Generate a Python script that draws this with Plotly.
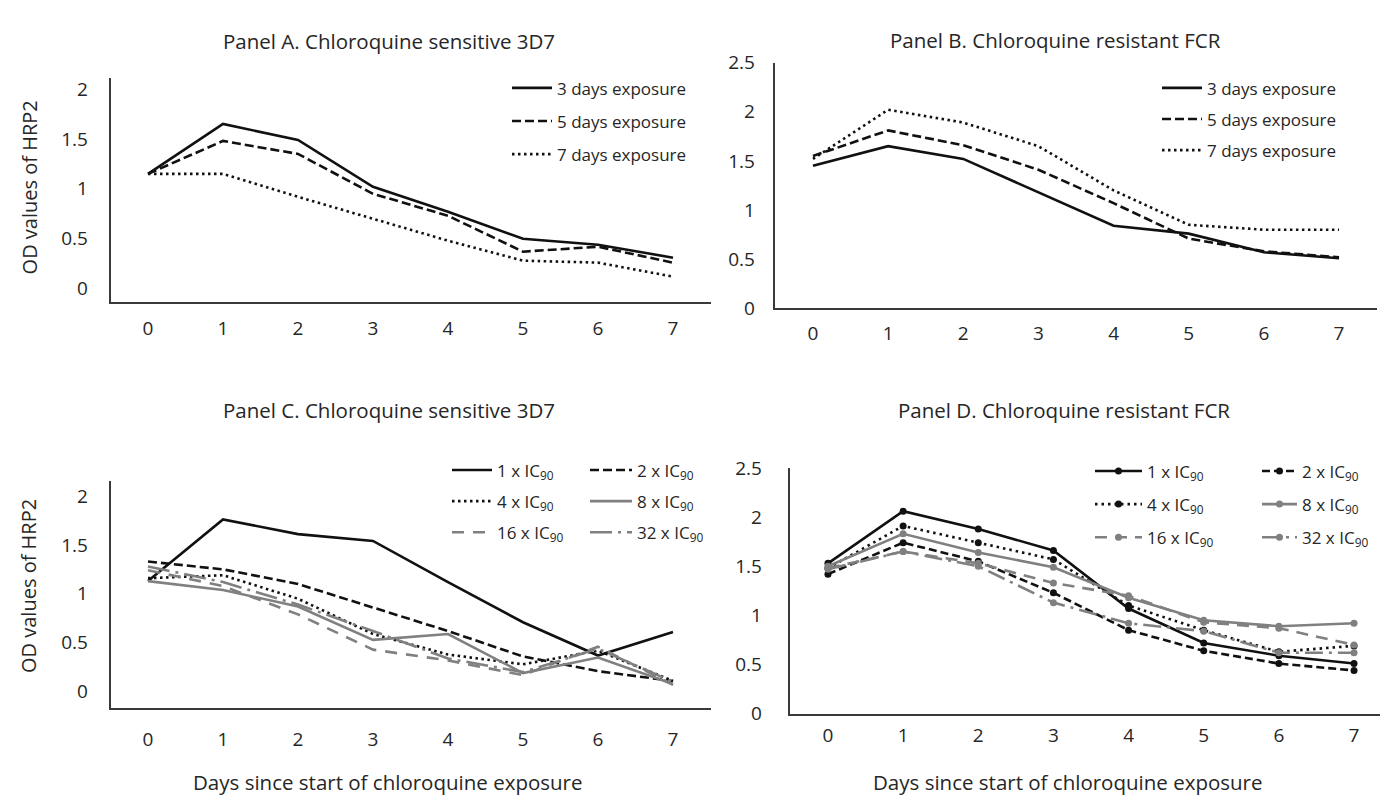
import plotly.graph_objects as go

days = [0, 1, 2, 3, 4, 5, 6, 7]
day_ticks = ["0", "1", "2", "3", "4", "5", "6", "7"]

# Panel A - Chloroquine sensitive 3D7 (exposure duration)
a_3days = [1.15, 1.65, 1.49, 1.02, 0.77, 0.50, 0.44, 0.31]
a_5days = [1.15, 1.48, 1.35, 0.95, 0.73, 0.37, 0.42, 0.26]
a_7days = [1.15, 1.15, 0.92, 0.70, 0.48, 0.28, 0.26, 0.12]

# Panel B - Chloroquine resistant FCR (exposure duration)
b_3days = [1.45, 1.65, 1.52, 1.18, 0.84, 0.76, 0.57, 0.51]
b_5days = [1.55, 1.81, 1.66, 1.41, 1.07, 0.71, 0.58, 0.52]
b_7days = [1.52, 2.02, 1.89, 1.65, 1.20, 0.85, 0.80, 0.80]

# Panel C - Chloroquine sensitive 3D7 (concentration)
c_1x = [1.13, 1.76, 1.61, 1.54, 1.12, 0.71, 0.37, 0.61]
c_2x = [1.33, 1.25, 1.10, 0.86, 0.62, 0.36, 0.21, 0.11]
c_4x = [1.16, 1.19, 0.95, 0.59, 0.38, 0.28, 0.42, 0.11]
c_8x = [1.13, 1.04, 0.87, 0.53, 0.59, 0.19, 0.35, 0.08]
c_16x = [1.24, 1.08, 0.79, 0.43, 0.32, 0.17, 0.46, 0.07]
c_32x = [1.28, 1.12, 0.89, 0.62, 0.34, 0.20, 0.44, 0.10]

# Panel D - Chloroquine resistant FCR (concentration)
d_1x = [1.53, 2.06, 1.88, 1.66, 1.07, 0.72, 0.59, 0.51]
d_2x = [1.42, 1.74, 1.55, 1.23, 0.85, 0.64, 0.51, 0.44]
d_4x = [1.48, 1.91, 1.74, 1.57, 1.10, 0.85, 0.63, 0.69]
d_8x = [1.50, 1.83, 1.64, 1.49, 1.18, 0.95, 0.89, 0.92]
d_16x = [1.48, 1.65, 1.53, 1.33, 1.20, 0.93, 0.87, 0.70]
d_32x = [1.47, 1.65, 1.50, 1.13, 0.92, 0.84, 0.62, 0.62]

exposure_names = ["3 days exposure", "5 days exposure", "7 days exposure"]
conc_names = ["1 x IC<sub>90</sub>", "2 x IC<sub>90</sub>", "4 x IC<sub>90</sub>",
              "8 x IC<sub>90</sub>", "16 x IC<sub>90</sub>", "32 x IC<sub>90</sub>"]

panel_titles = ["Panel A. Chloroquine sensitive 3D7", "Panel B. Chloroquine resistant FCR",
                "Panel C. Chloroquine sensitive 3D7", "Panel D. Chloroquine resistant FCR"]
x_title = "Days since start of chloroquine exposure"
y_title = "OD values of HRP2"

BLACK = "#111111"
GRAY = "#808080"
TXT = "#262626"
FONT = "Open Sans"

W, H = 1388, 799


def px_x(p):
    return p / W


def px_y(p):
    return 1 - p / H


fig = go.Figure()

styles_ab = [dict(color=BLACK, width=2.6, dash="solid"),
             dict(color=BLACK, width=2.6, dash="9px,4px"),
             dict(color=BLACK, width=2.6, dash="2.5px,3.5px")]
for i, (vals, nm) in enumerate(zip([a_3days, a_5days, a_7days], exposure_names)):
    fig.add_trace(go.Scatter(x=days, y=vals, mode="lines", name=nm, line=styles_ab[i],
                             xaxis="x", yaxis="y", legend="legend", legendgroup="a%d" % i))
for i, (vals, nm) in enumerate(zip([b_3days, b_5days, b_7days], exposure_names)):
    fig.add_trace(go.Scatter(x=days, y=vals, mode="lines", name=nm, line=styles_ab[i],
                             xaxis="x2", yaxis="y2", legend="legend2", legendgroup="b%d" % i))

styles_c = [dict(color=BLACK, width=2.6, dash="solid"),
            dict(color=BLACK, width=2.6, dash="9px,4px"),
            dict(color=BLACK, width=2.6, dash="2.5px,3.5px"),
            dict(color=GRAY, width=2.6, dash="solid"),
            dict(color=GRAY, width=2.6, dash="12px,9px"),
            dict(color=GRAY, width=2.6, dash="22px,6px,3px,6px")]
c_vals = [c_1x, c_2x, c_4x, c_8x, c_16x, c_32x]
for i, (vals, nm) in enumerate(zip(c_vals, conc_names)):
    fig.add_trace(go.Scatter(x=days, y=vals, mode="lines", name=nm, line=styles_c[i],
                             xaxis="x3", yaxis="y3",
                             legend="legend3" if i % 2 == 0 else "legend4",
                             legendgroup="c%d" % i))

styles_d = [dict(color=BLACK, width=2.6, dash="solid"),
            dict(color=BLACK, width=2.6, dash="8px,4px"),
            dict(color=BLACK, width=2.6, dash="2.5px,4px"),
            dict(color=GRAY, width=2.6, dash="solid"),
            dict(color=GRAY, width=2.6, dash="12px,8px"),
            dict(color=GRAY, width=2.6, dash="18px,6px,3px,6px")]
d_vals = [d_1x, d_2x, d_4x, d_8x, d_16x, d_32x]
for i, (vals, nm) in enumerate(zip(d_vals, conc_names)):
    col = styles_d[i]["color"]
    fig.add_trace(go.Scatter(x=days, y=vals, mode="lines+markers", name=nm, line=styles_d[i],
                             marker=dict(size=7, color=col, symbol="circle"),
                             xaxis="x4", yaxis="y4",
                             legend="legend5" if i % 2 == 0 else "legend6",
                             legendgroup="d%d" % i))

axis_common = dict(showgrid=False, zeroline=False, showline=True, linecolor="#3a3a3a",
                   linewidth=1.5, ticks="", tickfont=dict(family=FONT, size=19, color=TXT))

xa = dict(axis_common, range=[-0.5, 7.5], tickmode="array", tickvals=days, ticktext=day_ticks)
ya_ticks = dict(tickmode="array", tickvals=[0, 0.5, 1, 1.5, 2], ticktext=["0", "0.5", "1", "1.5", "2"])
yb_ticks = dict(tickmode="array", tickvals=[0, 0.5, 1, 1.5, 2, 2.5],
                ticktext=["0", "0.5", "1", "1.5", "2", "2.5"])

fig.update_layout(
    width=W, height=H, margin=dict(l=0, r=0, t=0, b=0),
    paper_bgcolor="white", plot_bgcolor="white",
    font=dict(family=FONT, color=TXT),
    xaxis=dict(xa, domain=[px_x(102.5), px_x(702.5)], anchor="y", ticklabelstandoff=9),
    yaxis=dict(axis_common, **ya_ticks, range=[-0.13, 2.11],
               domain=[px_y(290), px_y(59)], anchor="x", ticklabelstandoff=17),
    xaxis2=dict(xa, domain=[px_x(767.4), px_x(1368.6)], anchor="y2", ticklabelstandoff=7),
    yaxis2=dict(axis_common, **yb_ticks, range=[0, 2.5],
                domain=[px_y(297), px_y(43)], anchor="x2", ticklabelstandoff=15),
    xaxis3=dict(xa, domain=[px_x(102.5), px_x(702.5)], anchor="y3", ticklabelstandoff=14),
    yaxis3=dict(axis_common, **ya_ticks, range=[-0.165, 2.157],
                domain=[px_y(710), px_y(475)], anchor="x3", ticklabelstandoff=17),
    xaxis4=dict(xa, domain=[px_x(782.4), px_x(1383.6)], anchor="y4", ticklabelstandoff=4),
    yaxis4=dict(axis_common, **yb_ticks, range=[0, 2.5],
                domain=[px_y(716), px_y(462)], anchor="x4", ticklabelstandoff=23),
)

leg_common = dict(font=dict(family=FONT, size=17, color=TXT), bgcolor="rgba(0,0,0,0)",
                  xanchor="left", yanchor="top", itemwidth=40,
                  traceorder="grouped")
fig.update_layout(
    legend=dict(leg_common, x=px_x(499), y=px_y(51), tracegroupgap=8),
    legend2=dict(leg_common, x=px_x(1149), y=px_y(51), tracegroupgap=6),
    legend3=dict(leg_common, x=px_x(439), y=px_y(446), tracegroupgap=6),
    legend4=dict(leg_common, x=px_x(577), y=px_y(446), tracegroupgap=6, itemwidth=42),
    legend5=dict(leg_common, x=px_x(1082), y=px_y(447), tracegroupgap=8, itemwidth=47),
    legend6=dict(leg_common, x=px_x(1249), y=px_y(447), tracegroupgap=8, itemwidth=35),
)

annots = []
for txt, cx, cy in [(panel_titles[0], 381, 21), (panel_titles[1], 1047, 20),
                    (panel_titles[2], 381, 402), (panel_titles[3], 1056, 402)]:
    annots.append(dict(text=txt, x=px_x(cx), y=px_y(cy), xref="paper", yref="paper",
                       showarrow=False, xanchor="center", yanchor="middle",
                       font=dict(family=FONT, size=20.5, color=TXT)))
for cx in (380, 1060):
    annots.append(dict(text=x_title, x=px_x(cx), y=px_y(787), xref="paper", yref="paper",
                       showarrow=False, xanchor="center", yanchor="middle",
                       font=dict(family=FONT, size=20.5, color=TXT)))
for cy in (172, 584):
    annots.append(dict(text=y_title, x=px_x(21), y=px_y(cy), xref="paper", yref="paper",
                       showarrow=False, xanchor="center", yanchor="middle", textangle=-90,
                       font=dict(family=FONT, size=20, color=TXT)))
fig.update_layout(annotations=annots)

fig.write_html("out.html")
